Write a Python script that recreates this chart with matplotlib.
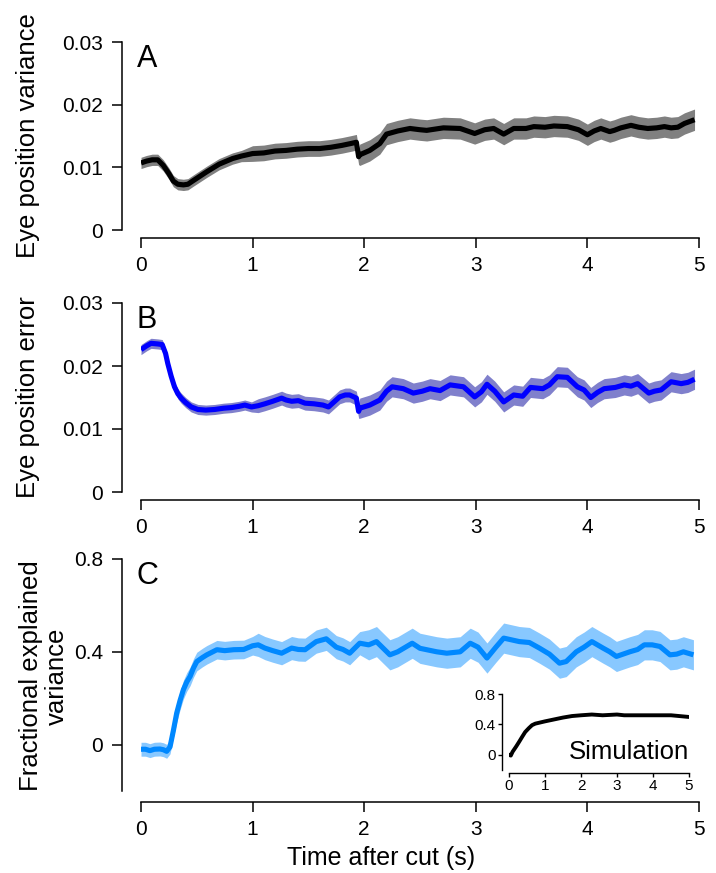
import numpy as np
import matplotlib
matplotlib.use("Agg")
import matplotlib.pyplot as plt

plt.rcParams['font.family'] = ['Liberation Sans', 'DejaVu Sans']

# ---------------- data ----------------
# Panel A: eye position variance
tA = [0, 0.05, 0.1, 0.15, 0.2, 0.25, 0.29, 0.33, 0.38, 0.42,
      0.47, 0.53, 0.59, 0.7, 0.82, 0.9, 1.0, 1.1, 1.2, 1.3,
      1.4, 1.5, 1.6, 1.7, 1.8, 1.88, 1.93, 1.95, 1.96, 2.05,
      2.14, 2.2, 2.3, 2.41, 2.5, 2.56, 2.71, 2.86, 2.99, 3.08,
      3.16, 3.25, 3.34, 3.45, 3.52, 3.62, 3.70, 3.82, 3.92, 4.0,
      4.06, 4.12, 4.2, 4.24, 4.3, 4.39, 4.46, 4.54, 4.62, 4.69,
      4.75, 4.81, 4.87, 4.96]
vA = [10.7, 11.0, 11.2, 11.2, 10.3, 9.0, 7.8, 7.3, 7.2, 7.3,
      7.9, 8.6, 9.3, 10.5, 11.4, 11.8, 12.2, 12.3, 12.6, 12.7,
      12.9, 13.0, 13.0, 13.2, 13.5, 13.8, 14.0, 11.7, 12.0, 12.7,
      13.8, 15.3, 15.8, 16.2, 16.0, 15.9, 16.3, 16.2, 15.4, 16.0,
      16.2, 15.3, 16.2, 16.2, 16.5, 16.4, 16.6, 16.5, 16.0, 15.2,
      15.8, 16.2, 15.7, 15.9, 16.3, 16.7, 16.4, 16.2, 16.3, 16.5,
      16.3, 16.4, 17.0, 17.6]  # x 1e-3
eA = [0.9] * 16 + [1.25] * 12 + [1.7] * 36  # half band, x 1e-3

# Panel B: eye position error
tB = [0, 0.05, 0.09, 0.15, 0.19, 0.22, 0.24, 0.27, 0.3, 0.33,
      0.36, 0.4, 0.45, 0.51, 0.58, 0.66, 0.74, 0.81, 0.88, 0.93,
      0.99, 1.05, 1.11, 1.18, 1.26, 1.3, 1.35, 1.41, 1.47, 1.55,
      1.63, 1.68, 1.73, 1.78, 1.83, 1.87, 1.93, 1.95, 1.96, 2.05,
      2.14, 2.2, 2.25, 2.35, 2.44, 2.52, 2.59, 2.68, 2.77, 2.89,
      2.99, 3.05, 3.1, 3.17, 3.25, 3.34, 3.42, 3.49, 3.6, 3.66,
      3.73, 3.82, 3.91, 3.97, 4.03, 4.09, 4.15, 4.25, 4.33, 4.39,
      4.45, 4.55, 4.6, 4.66, 4.75, 4.84, 4.9, 4.96]
vB = [22.6, 23.2, 23.6, 23.5, 23.4, 22.0, 20.4, 18.4, 16.7, 15.6,
      14.9, 14.2, 13.5, 13.1, 13.0, 13.1, 13.3, 13.4, 13.6, 13.8,
      13.5, 13.7, 14.0, 14.4, 14.9, 14.6, 14.4, 14.5, 14.1, 14.0,
      13.8, 13.5, 14.3, 15.1, 15.4, 15.4, 14.9, 12.8, 13.3, 13.8,
      14.6, 16.0, 16.7, 16.4, 15.7, 16.0, 16.4, 16.1, 17.0, 16.7,
      15.1, 15.9, 17.1, 16.0, 14.3, 15.4, 15.2, 16.6, 16.4, 17.0,
      18.3, 18.2, 16.7, 16.2, 15.0, 15.8, 16.4, 16.6, 17.0, 16.8,
      17.2, 15.7, 16.0, 16.2, 17.5, 17.2, 17.4, 17.9]  # x 1e-3
eB = [0.8] * 21 + [1.1] * 17 + [1.6] * 40

# Panel C: fractional explained variance
tC = [0, 0.04, 0.08, 0.12, 0.17, 0.2, 0.23, 0.26, 0.29, 0.32,
      0.35, 0.38, 0.41, 0.44, 0.47, 0.5, 0.55, 0.59, 0.68, 0.75,
      0.83, 0.92, 1.0, 1.05, 1.11, 1.18, 1.26, 1.35, 1.41, 1.47,
      1.57, 1.66, 1.75, 1.81, 1.87, 1.96, 2.04, 2.11, 2.23, 2.3,
      2.43, 2.5, 2.56, 2.65, 2.74, 2.86, 2.95, 3.02, 3.1, 3.18,
      3.25, 3.39, 3.48, 3.57, 3.66, 3.75, 3.81, 3.9, 3.97, 4.04,
      4.14, 4.2, 4.26, 4.38, 4.45, 4.51, 4.58, 4.65, 4.74, 4.8,
      4.86, 4.95]
vC = [-0.02, -0.02, -0.026, -0.02, -0.019, -0.022, -0.029, -0.01, 0.06, 0.136,
      0.19, 0.237, 0.27, 0.294, 0.33, 0.358, 0.375, 0.387, 0.409, 0.405,
      0.409, 0.41, 0.426, 0.43, 0.416, 0.405, 0.394, 0.416, 0.41, 0.409,
      0.444, 0.456, 0.42, 0.41, 0.394, 0.437, 0.43, 0.444, 0.387, 0.40,
      0.437, 0.415, 0.409, 0.40, 0.394, 0.40, 0.437, 0.42, 0.373, 0.42,
      0.459, 0.444, 0.44, 0.416, 0.39, 0.351, 0.358, 0.40, 0.42, 0.444,
      0.416, 0.40, 0.38, 0.40, 0.41, 0.43, 0.43, 0.423, 0.387, 0.39,
      0.40, 0.387]
eC = [0.03] * 9 + [0.04] * 14 + [0.05] * 13 + [0.065] * 36

# Inset: simulation
tS = [0, 0.05, 0.1, 0.2, 0.28, 0.37, 0.45, 0.55, 0.64, 0.73,
      0.82, 1.0, 1.2, 1.5, 1.75, 2.0, 2.3, 2.6, 3.0, 3.2,
      3.6, 4.1, 4.5, 4.95]
vS = [0.0, -0.01, 0.04, 0.11, 0.17, 0.24, 0.30, 0.35, 0.39, 0.41,
      0.42, 0.44, 0.46, 0.49, 0.51, 0.52, 0.53, 0.52, 0.53, 0.52,
      0.52, 0.52, 0.52, 0.50]

xticks = [0, 1, 2, 3, 4, 5]
yticksAB = [0, 0.01, 0.02, 0.03]
yticklabelsAB = ['0', '0.01', '0.02', '0.03']
yticksC = [0, 0.4, 0.8]
yticklabelsC = ['0', '0.4', '0.8']

# ---------------- figure ----------------
W, H = 716, 873
fig = plt.figure(figsize=(W / 100, H / 100), dpi=100)


def box(x0, ytop, x1, ybot):
    return [x0 / W, 1 - ybot / H, (x1 - x0) / W, (ybot - ytop) / H]


def style(ax, left_off, bot_off, ticklen=7, fs=15, lw=1.1, xpad=6, ypad=6.5):
    for s in ['top', 'right']:
        ax.spines[s].set_visible(False)
    ax.spines['left'].set_position(('outward', left_off))
    ax.spines['bottom'].set_position(('outward', bot_off))
    for s in ['left', 'bottom']:
        ax.spines[s].set_linewidth(lw)
    ax.tick_params(direction='out', length=ticklen, width=lw, labelsize=fs)
    ax.tick_params(axis='x', pad=xpad)
    ax.tick_params(axis='y', pad=ypad)


def panel(ax, t, v, e, scale, line_c, fill_c):
    t = np.array(t)
    v = np.array(v) * scale
    e = np.array(e) * scale
    ax.fill_between(t, v - e, v + e, color=fill_c, lw=0)
    ax.plot(t, v, color=line_c, lw=3.7, solid_capstyle='butt')


axA = fig.add_axes(box(141, 42, 699, 230))
axB = fig.add_axes(box(141, 303, 699, 492))
axC = fig.add_axes(box(141, 559, 699, 791))

panel(axA, tA, vA, eA, 1e-3, 'black', '#808080')
panel(axB, tB, vB, eB, 1e-3, '#0000ff', '#8080cc')
panel(axC, tC, vC, eC, 1.0, '#0088ff', '#88c8ff')

for ax in (axA, axB):
    ax.set_xlim(0, 5)
    ax.set_ylim(0, 0.03)
    ax.set_yticks(yticksAB)
    ax.set_yticklabels(yticklabelsAB)
    ax.set_xticks(xticks)
    style(ax, 13.7, 5.8)
axC.set_xlim(0, 5)
axC.set_ylim(-0.2, 0.8)
axC.set_yticks(yticksC)
axC.set_yticklabels(yticklabelsC)
axC.set_xticks(xticks)
style(axC, 13.7, 7.9)

# panel letters
for ax, lab in ((axA, 'A'), (axB, 'B'), (axC, 'C')):
    ax.text(-0.008, 0.99, lab, transform=ax.transAxes, ha='left', va='top',
            fontsize=22)

# y labels
fig.text(28 / W, 1 - 136 / H, 'Eye position variance', rotation=90,
         ha='center', va='center', fontsize=18.5)
fig.text(28 / W, 1 - 397 / H, 'Eye position error', rotation=90,
         ha='center', va='center', fontsize=18.5)
fig.text(44 / W, 1 - 676 / H, 'Fractional explained\nvariance', rotation=90,
         ha='center', va='center', fontsize=18.5, multialignment='center',
         linespacing=1.1)
fig.text(381 / W, 1 - 858 / H, 'Time after cut (s)', ha='center',
         va='center', fontsize=18)

# inset
axS = fig.add_axes(box(509, 694, 689, 770))
axS.plot(tS, vS, color='black', lw=2.8)
axS.set_xlim(0, 5)
axS.set_ylim(-0.2, 0.8)
axS.set_xticks(xticks)
axS.set_yticks(yticksC)
axS.set_yticklabels(yticklabelsC)
style(axS, 5, 2.2, ticklen=3, fs=11, lw=1.0, xpad=1.5, ypad=1.5)
axS.patch.set_alpha(0)
axS.text(1.0, 0.15, 'Simulation', transform=axS.transAxes, ha='right',
         va='baseline', fontsize=18.5)

fig.savefig('out.png', dpi=100)
